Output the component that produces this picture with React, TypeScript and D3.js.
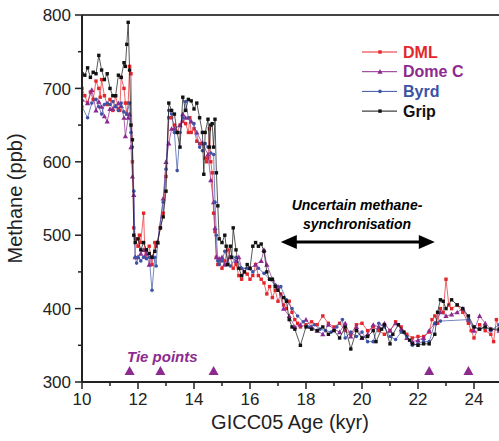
import React from "react";
import * as d3 from "d3";

type P = [number, number];

const gripData: P[] = [
  [10.0, 720], [10.1, 718], [10.2, 728], [10.3, 715], [10.4, 722], [10.5, 720], [10.6, 745], [10.7, 725],
  [10.8, 712], [10.9, 720], [11.0, 700], [11.1, 690], [11.2, 690], [11.3, 718], [11.4, 715], [11.5, 735],
  [11.55, 730], [11.6, 760], [11.65, 790], [11.7, 725], [11.75, 650], [11.8, 630], [11.85, 500], [11.9, 490],
  [12.0, 495], [12.1, 480], [12.2, 490], [12.3, 480], [12.4, 475], [12.5, 470], [12.6, 478], [12.7, 490],
  [12.8, 510], [12.9, 525], [13.0, 560], [13.1, 680], [13.2, 670], [13.3, 665], [13.4, 640], [13.5, 620],
  [13.6, 688], [13.7, 670], [13.8, 685], [13.9, 683], [14.0, 672], [14.1, 680], [14.2, 660], [14.3, 640],
  [14.35, 583], [14.4, 640], [14.5, 658], [14.55, 620], [14.6, 650], [14.65, 652], [14.7, 620], [14.75, 658],
  [14.8, 585], [14.85, 540], [14.9, 495], [15.0, 490], [15.1, 500], [15.15, 485], [15.2, 460], [15.3, 485],
  [15.35, 470], [15.4, 510], [15.5, 480], [15.6, 455], [15.7, 445], [15.8, 450], [15.9, 460], [16.0, 455],
  [16.1, 485], [16.2, 490], [16.3, 485], [16.4, 488], [16.5, 478], [16.6, 450], [16.7, 440], [16.8, 440],
  [16.9, 430], [17.0, 425], [17.2, 415], [17.3, 410], [17.4, 385], [17.5, 375], [17.6, 372], [17.8, 350],
  [18.0, 375], [18.2, 372], [18.4, 370], [18.6, 375], [18.8, 365], [19.0, 370], [19.2, 360], [19.4, 375],
  [19.6, 345], [19.8, 370], [20.0, 360], [20.2, 362], [20.4, 370], [20.5, 355], [20.7, 372], [20.8, 378],
  [21.0, 352], [21.1, 365], [21.3, 378], [21.5, 368], [21.7, 357], [21.8, 352], [22.0, 350], [22.2, 352],
  [22.4, 352], [22.6, 365], [22.7, 395], [22.8, 412], [22.9, 410], [23.0, 400], [23.2, 412], [23.4, 405],
  [23.6, 400], [23.8, 390], [24.0, 375], [24.2, 372], [24.4, 375], [24.6, 372], [24.9, 372],
];

const dmlData: P[] = [
  [10.0, 700], [10.1, 690], [10.2, 680], [10.3, 695], [10.4, 685], [10.5, 710], [10.6, 700], [10.65, 688],
  [10.7, 712], [10.8, 690], [10.9, 678], [11.0, 685], [11.1, 670], [11.2, 690], [11.3, 672], [11.35, 670],
  [11.4, 715], [11.5, 700], [11.55, 680], [11.6, 665], [11.65, 680], [11.7, 730], [11.75, 720], [11.8, 600],
  [11.85, 510], [11.9, 495], [12.0, 485], [12.05, 500], [12.1, 490], [12.2, 530], [12.25, 470], [12.3, 480],
  [12.4, 485], [12.5, 460], [12.6, 490], [12.65, 485], [12.7, 490], [12.8, 510], [12.9, 530], [13.0, 580],
  [13.1, 660], [13.2, 660], [13.3, 650], [13.4, 640], [13.5, 650], [13.6, 655], [13.7, 652], [13.8, 640],
  [13.85, 660], [13.9, 640], [14.0, 645], [14.1, 628], [14.2, 625], [14.3, 625], [14.4, 605], [14.45, 600],
  [14.5, 605], [14.55, 645], [14.6, 600], [14.65, 585], [14.7, 530], [14.75, 505], [14.8, 470], [14.85, 460],
  [14.9, 465], [15.0, 455], [15.1, 465], [15.2, 480], [15.3, 470], [15.4, 455], [15.5, 460], [15.6, 445],
  [15.7, 440], [15.8, 450], [15.9, 447], [16.0, 440], [16.1, 445], [16.2, 460], [16.3, 445], [16.4, 440],
  [16.5, 435], [16.6, 420], [16.7, 430], [16.8, 415], [16.9, 425], [17.0, 410], [17.1, 420], [17.2, 405],
  [17.3, 400], [17.4, 410], [17.5, 395], [17.6, 385], [17.7, 380], [17.8, 375], [18.0, 378], [18.2, 382],
  [18.4, 378], [18.6, 390], [18.8, 380], [19.0, 375], [19.2, 380], [19.4, 370], [19.6, 365], [19.8, 378],
  [20.0, 380], [20.2, 370], [20.4, 375], [20.6, 370], [20.8, 365], [21.0, 370], [21.2, 382], [21.4, 375],
  [21.6, 365], [21.8, 360], [22.0, 362], [22.2, 362], [22.4, 368], [22.5, 385], [22.6, 390], [22.7, 380],
  [22.8, 400], [22.9, 395], [23.0, 440], [23.1, 405], [23.2, 400], [23.4, 405], [23.6, 395], [23.8, 380],
  [23.9, 370], [24.0, 360], [24.2, 378], [24.4, 370], [24.6, 365], [24.7, 355], [24.8, 385], [24.9, 370],
];

const domeCData: P[] = [
  [10.0, 685], [10.2, 680], [10.35, 698], [10.5, 670], [10.6, 682], [10.7, 675], [10.8, 662], [10.9, 655],
  [11.0, 672], [11.1, 672], [11.2, 676], [11.3, 680], [11.4, 676], [11.5, 660], [11.55, 635], [11.65, 660],
  [11.7, 665], [11.75, 620], [11.8, 580], [11.85, 555], [11.9, 470], [12.0, 470], [12.1, 475], [12.2, 480],
  [12.3, 475], [12.4, 460], [12.5, 470], [12.7, 490], [12.9, 550], [13.0, 600], [13.1, 625], [13.2, 645],
  [13.3, 645], [13.5, 650], [13.6, 665], [13.7, 660], [13.9, 655], [14.1, 640], [14.3, 625], [14.5, 610],
  [14.6, 575], [14.7, 545], [14.75, 510], [14.8, 470], [14.9, 468], [15.0, 470], [15.1, 460], [15.3, 470],
  [15.5, 465], [15.6, 470], [15.7, 455], [16.0, 455], [16.2, 460], [16.4, 465], [16.5, 480], [16.6, 460],
  [16.8, 440], [17.0, 430], [17.2, 400], [17.4, 390], [17.6, 375], [17.8, 378], [18.0, 385], [18.2, 375],
  [18.4, 370], [18.6, 365], [18.8, 378], [19.0, 372], [19.2, 368], [19.4, 380], [19.6, 362], [19.8, 375],
  [20.0, 360], [20.2, 365], [20.4, 378], [20.6, 375], [20.8, 380], [21.0, 370], [21.2, 380], [21.4, 372],
  [21.6, 360], [21.8, 355], [22.0, 357], [22.2, 360], [22.4, 370], [22.6, 380], [22.8, 395], [23.0, 390],
  [23.2, 392], [23.4, 395], [23.6, 400], [23.8, 385], [24.0, 370], [24.2, 390], [24.4, 380], [24.6, 372],
  [24.9, 370],
];

const byrdData: P[] = [
  [10.0, 675], [10.2, 660], [10.35, 680], [10.5, 685], [10.6, 675], [10.7, 665], [10.8, 678], [10.9, 680],
  [11.0, 678], [11.1, 682], [11.2, 675], [11.3, 670], [11.4, 680], [11.5, 668], [11.6, 665], [11.7, 680],
  [11.75, 640], [11.8, 620], [11.85, 560], [11.9, 470], [11.95, 462], [12.0, 470], [12.1, 465], [12.2, 470],
  [12.3, 468], [12.4, 470], [12.5, 425], [12.6, 470], [12.65, 458], [12.7, 490], [12.9, 545], [13.0, 590],
  [13.1, 670], [13.2, 665], [13.3, 640], [13.4, 588], [13.5, 640], [13.6, 660], [13.7, 682], [13.8, 660],
  [14.0, 652], [14.2, 620], [14.3, 615], [14.4, 625], [14.5, 620], [14.6, 612], [14.7, 610], [14.75, 545],
  [14.8, 500], [14.85, 465], [14.9, 460], [15.0, 465], [15.1, 478], [15.3, 458], [15.5, 470], [15.7, 455],
  [15.9, 455], [16.1, 450], [16.3, 455], [16.5, 448], [16.7, 440], [16.9, 432], [17.1, 430], [17.3, 412],
  [17.5, 400], [17.7, 390], [17.9, 382], [18.1, 375], [18.3, 378], [18.5, 372], [18.7, 370], [18.9, 368],
  [19.1, 375], [19.3, 385], [19.4, 360], [19.6, 368], [19.8, 362], [20.0, 368], [20.2, 355], [20.4, 355],
  [20.6, 380], [20.8, 375], [21.0, 362], [21.2, 358], [21.4, 368], [21.6, 362], [21.8, 350], [22.0, 352],
  [22.2, 355], [22.4, 355], [22.6, 380], [22.8, 383], [23.8, 385], [24.0, 375], [24.2, 372], [24.4, 375],
  [24.6, 370], [24.9, 378],
];

const tiePoints: number[] = [11.7, 12.8, 14.7, 22.4, 23.8];
const xTicks: number[] = [10, 12, 14, 16, 18, 20, 22, 24];
const yTicks: number[] = [300, 400, 500, 600, 700, 800];
const seriesNames: string[] = ["DML", "Dome C", "Byrd", "Grip"];
const seriesColors: string[] = ["#e4262a", "#8c2a8f", "#3b54a5", "#111111"];
const arrowRange: number[] = [17.1, 22.6];

const W = 499;
const H = 441;
const left = 82;
const top = 15;
const bottom = 382;

const x = d3.scaleLinear().domain([10, 25]).range([left, left + 15 * 28]);
const y = d3.scaleLinear().domain([300, 800]).range([bottom, top]);

const FONT = "Liberation Sans, Arial, Helvetica, sans-serif";

function Marker({ kind, cx, cy, color }: { kind: number; cx: number; cy: number; color: string }) {
  if (kind === 1) {
    const s = 2.6;
    return <path d={`M${cx},${cy - s}L${cx + s},${cy + s * 0.8}L${cx - s},${cy + s * 0.8}Z`} fill={color} />;
  }
  if (kind === 2) return <circle cx={cx} cy={cy} r={1.8} fill={color} />;
  return <rect x={cx - 1.7} y={cy - 1.7} width={3.4} height={3.4} fill={color} />;
}

export default function App() {
  const all = [dmlData, domeCData, byrdData, gripData];
  const line = d3
    .line<P>()
    .x((d) => x(d[0]))
    .y((d) => y(d[1]));
  const xMinor = d3.range(10, 26, 1);
  const yMinor = d3.range(300, 801, 50);
  const arrowY = 242;
  const ax0 = x(arrowRange[0]);
  const ax1 = x(arrowRange[1]);
  return (
    <svg width={W} height={H} style={{ position: "absolute", left: 0, top: 0, background: "#fff" }} fontFamily={FONT}>
      <defs>
        <clipPath id="plot">
          <rect x={left} y={top - 5} width={W - left} height={bottom - top + 5} />
        </clipPath>
      </defs>
      <g clipPath="url(#plot)">
        {all.map((data, i) => (
          <g key={i}>
            <path d={line(data) || ""} fill="none" stroke={seriesColors[i]} strokeWidth={1} strokeOpacity={0.7} />
            {data.map((d, j) => (
              <Marker key={j} kind={i} cx={x(d[0])} cy={y(d[1])} color={seriesColors[i]} />
            ))}
          </g>
        ))}
      </g>
      <line x1={left} x2={W} y1={top} y2={top} stroke="#444" strokeWidth={2} />
      <line x1={left} x2={left} y1={top} y2={bottom} stroke="#222" strokeWidth={2} />
      <line x1={left} x2={W} y1={bottom} y2={bottom} stroke="#222" strokeWidth={2} />
      {yMinor.map((v) => (
        <line key={v} x1={left} x2={left - (v % 100 === 0 ? 7 : 4)} y1={y(v)} y2={y(v)} stroke="#222" strokeWidth={1.5} />
      ))}
      {yTicks.map((v) => (
        <text key={v} x={left - 11} y={y(v)} dy="0.36em" textAnchor="end" fontSize={17} fill="#222">
          {v}
        </text>
      ))}
      {xMinor.map((v) => (
        <line key={v} x1={x(v)} x2={x(v)} y1={bottom} y2={bottom + (v % 2 === 0 ? 7 : 4)} stroke="#222" strokeWidth={1.5} />
      ))}
      {xTicks.map((v) => (
        <text key={v} x={x(v)} y={405} textAnchor="middle" fontSize={17} fill="#222">
          {v}
        </text>
      ))}
      <text x={290} y={429} textAnchor="middle" fontSize={20} fill="#222">
        GICC05 Age (kyr)
      </text>
      <text transform={`translate(22,${(top + bottom) / 2}) rotate(-90)`} textAnchor="middle" fontSize={20} fill="#222">
        Methane (ppb)
      </text>
      {tiePoints.map((t) => (
        <path key={t} d={`M${x(t)},${366}L${x(t) + 5},${375}L${x(t) - 5},${375}Z`} fill="#8c2a8f" />
      ))}
      <text x={127} y={362} fontSize={15} fontWeight="bold" fontStyle="italic" fill="#8c2a8f">
        Tie points
      </text>
      <line x1={ax0 + 12} x2={ax1 - 12} y1={arrowY} y2={arrowY} stroke="#000" strokeWidth={3} />
      <path d={`M${ax0},${arrowY}L${ax0 + 16},${arrowY - 7}L${ax0 + 16},${arrowY + 7}Z`} fill="#000" />
      <path d={`M${ax1},${arrowY}L${ax1 - 16},${arrowY - 7}L${ax1 - 16},${arrowY + 7}Z`} fill="#000" />
      <text x={357} y={210} textAnchor="middle" fontSize={14} fontWeight="bold" fontStyle="italic" fill="#000">
        Uncertain methane-
      </text>
      <text x={357} y={229} textAnchor="middle" fontSize={14} fontWeight="bold" fontStyle="italic" fill="#000">
        synchronisation
      </text>
      {seriesNames.map((n, i) => {
        const ly = 52 + i * 19.7;
        return (
          <g key={n}>
            <line x1={362} x2={397} y1={ly} y2={ly} stroke={seriesColors[i]} strokeWidth={1} />
            <Marker kind={i} cx={380} cy={ly} color={seriesColors[i]} />
            <text x={403} y={ly} dy="0.36em" fontSize={16} fontWeight="bold" fill={seriesColors[i]}>
              {n}
            </text>
          </g>
        );
      })}
    </svg>
  );
}
